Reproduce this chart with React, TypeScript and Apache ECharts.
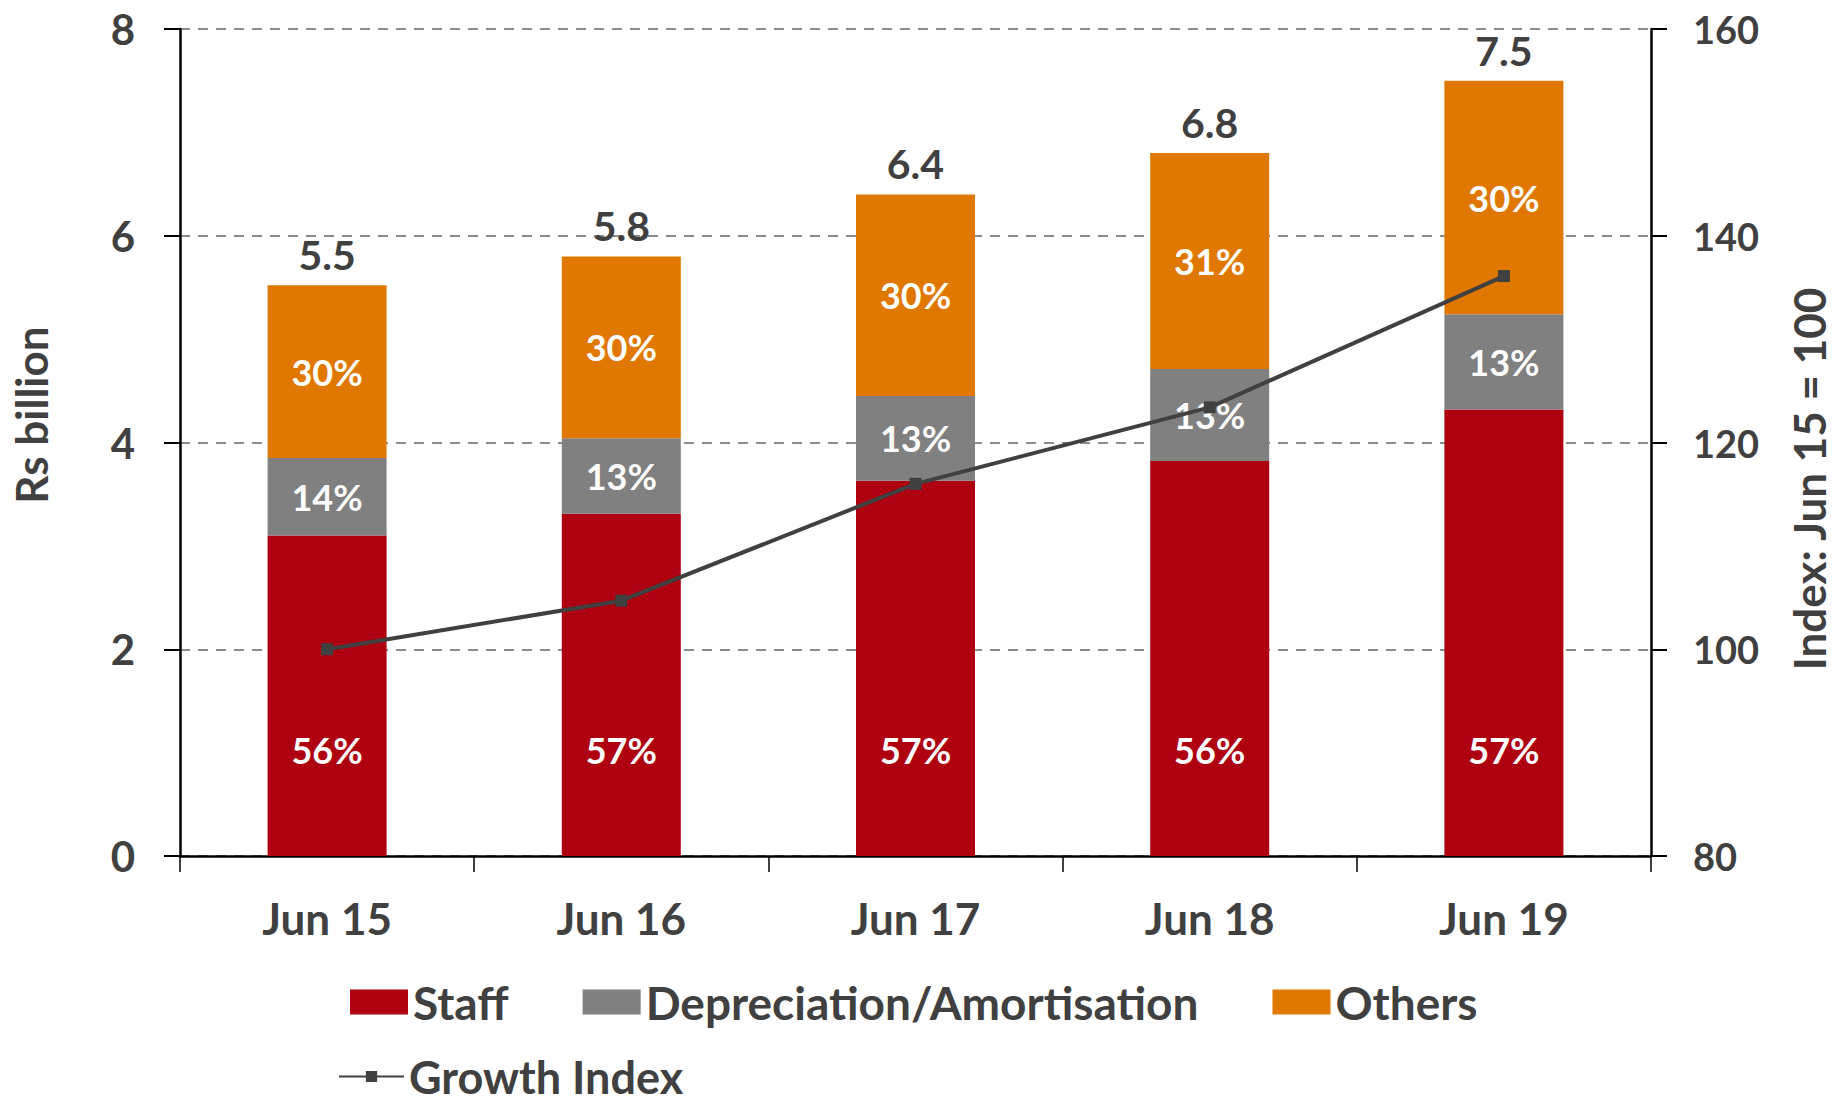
import React, { useEffect, useRef } from "react";
import * as echarts from "echarts";

const categories = ["Jun 15", "Jun 16", "Jun 17", "Jun 18", "Jun 19"];
const staff = [3.1, 3.31, 3.63, 3.82, 4.32];
const depreciation = [0.75, 0.73, 0.82, 0.89, 0.92];
const others = [1.67, 1.76, 1.95, 2.09, 2.26];
const totals = [5.5, 5.8, 6.4, 6.8, 7.5];
const staffPct = ["56%", "57%", "57%", "56%", "57%"];
const depPct = ["14%", "13%", "13%", "13%", "13%"];
const othersPct = ["30%", "30%", "30%", "31%", "30%"];
const growthIndex = [100, 104.7, 116, 123.4, 136.1];

const leftMin = 0;
const leftMax = 8;
const leftInterval = 2;
const rightMin = 80;
const rightMax = 160;
const rightInterval = 20;

const FONT = "Lato, 'Open Sans', sans-serif";
const TEXT = "#404040";

export default function App() {
  const ref = useRef<HTMLDivElement>(null);

  useEffect(() => {
    document.body.style.margin = "0";
    if (!ref.current) return;
    const chart = echarts.init(ref.current, undefined, { renderer: "svg" });

    const pctLabel = (arr: string[], position: any, extra: any = {}) => ({
      show: true,
      position,
      color: "#ffffff",
      fontFamily: FONT,
      fontWeight: "bold",
      fontSize: 36,
      formatter: (p: any) => arr[p.dataIndex],
      ...extra,
    });

    chart.setOption({
      animation: false,
      backgroundColor: "#ffffff",
      textStyle: { fontFamily: FONT },
      grid: { left: 180, right: 190, top: 29, bottom: 252, containLabel: false },
      legend: [
        {
          data: ["Staff", "Depreciation/Amortisation", "Others"],
          left: 350,
          top: 977,
          padding: 0,
          itemWidth: 58,
          itemHeight: 25,
          itemGap: 74,
          icon: "rect",
          textStyle: { fontFamily: FONT, fontWeight: "bold", fontSize: 46, lineHeight: 50, color: TEXT },
        },
        {
          data: ["Growth Index"],
          left: 338,
          top: 1054,
          padding: 0,
          itemWidth: 65,
          itemHeight: 14,
          textStyle: { fontFamily: FONT, fontWeight: "bold", fontSize: 45, lineHeight: 40, color: TEXT },
        },
      ],
      xAxis: {
        type: "category",
        data: categories,
        boundaryGap: true,
        axisLine: { show: true, lineStyle: { color: "#000000", width: 2.5 } },
        axisTick: { show: true, alignWithLabel: false, length: 16, lineStyle: { color: "#000000", width: 1.5 } },
        axisLabel: { margin: 40, fontFamily: FONT, fontWeight: "bold", fontSize: 44, color: TEXT },
      },
      yAxis: [
        {
          type: "value",
          min: leftMin,
          max: leftMax,
          interval: leftInterval,
          axisLine: { show: true, lineStyle: { color: "#000000", width: 2.5 } },
          axisTick: { show: true, length: 16, lineStyle: { color: "#000000", width: 2 } },
          axisLabel: { margin: 45, fontFamily: FONT, fontWeight: "bold", fontSize: 42, color: TEXT },
          splitLine: { show: true, lineStyle: { color: "#8c8c8c", width: 2, type: [10, 8] } },
        },
        {
          type: "value",
          position: "right",
          min: rightMin,
          max: rightMax,
          interval: rightInterval,
          axisLine: { show: true, lineStyle: { color: "#000000", width: 2.5 } },
          axisTick: { show: true, length: 16, lineStyle: { color: "#000000", width: 2 } },
          axisLabel: { margin: 42, fontFamily: FONT, fontWeight: "bold", fontSize: 38, color: TEXT },
          splitLine: { show: false },
        },
      ],
      graphic: [
        {
          type: "text",
          x: 31,
          y: 415,
          rotation: Math.PI / 2,
          style: {
            text: "Rs billion",
            fontFamily: FONT,
            fontWeight: "bold",
            fontSize: 44,
            lineHeight: 44,
            fill: TEXT,
            textAlign: "center",
            textVerticalAlign: "middle",
          },
        },
        {
          type: "text",
          x: 1809,
          y: 479,
          rotation: Math.PI / 2,
          style: {
            text: "Index: Jun 15 = 100",
            fontFamily: FONT,
            fontWeight: "bold",
            fontSize: 44,
            lineHeight: 40,
            fill: TEXT,
            textAlign: "center",
            textVerticalAlign: "middle",
          },
        },
      ],
      series: [
        {
          name: "Staff",
          type: "bar",
          stack: "cost",
          barWidth: 119,
          data: staff,
          itemStyle: { color: "#ae0010" },
          label: pctLabel(staffPct, "insideBottom", { distance: 88 }),
        },
        {
          name: "Depreciation/Amortisation",
          type: "bar",
          stack: "cost",
          barWidth: 119,
          data: depreciation,
          itemStyle: { color: "#808080" },
          label: pctLabel(depPct, "inside"),
        },
        {
          name: "Others",
          type: "bar",
          stack: "cost",
          barWidth: 119,
          data: others,
          itemStyle: { color: "#e07800" },
          label: pctLabel(othersPct, "inside"),
        },
        {
          name: "Total",
          type: "bar",
          stack: "cost",
          barWidth: 119,
          data: totals.map(() => 0),
          itemStyle: { color: "transparent" },
          label: {
            show: true,
            position: "top",
            distance: 10,
            fontFamily: FONT,
            fontWeight: "bold",
            fontSize: 41,
            color: TEXT,
            formatter: (p: any) => totals[p.dataIndex].toFixed(1),
          },
          tooltip: { show: false },
        },
        {
          name: "Growth Index",
          type: "line",
          yAxisIndex: 1,
          data: growthIndex,
          symbol: "rect",
          symbolSize: 12,
          itemStyle: { color: "#404040" },
          lineStyle: { color: "#404040", width: 4 },
          z: 5,
        },
      ],
    });

    return () => chart.dispose();
  }, []);

  return <div ref={ref} style={{ width: 1841, height: 1108 }} />;
}
